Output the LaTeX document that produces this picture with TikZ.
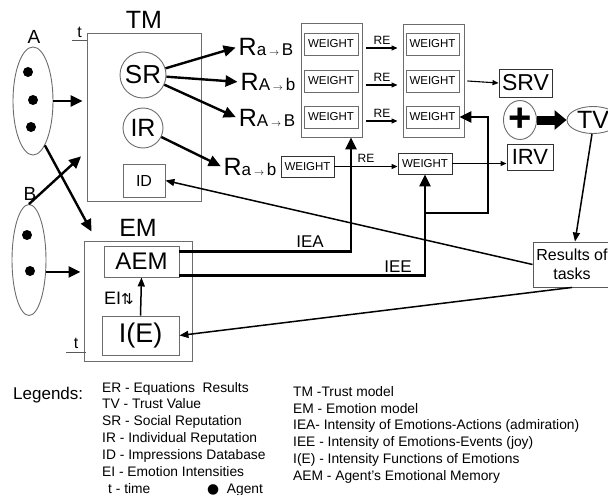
\documentclass[tikz,border=0pt]{standalone}
\usepackage{fontspec}
\setmainfont{Liberation Sans}
\newfontfamily\symfont{DejaVu Sans}
\usetikzlibrary{arrows.meta,shapes.geometric}
\newcommand{\fsz}[1]{\fontsize{#1}{#1}\selectfont}
\newcommand{\relab}[2]{{\fsz{25}R}{\fsz{17}#1\,{\fsz{10}$\rightarrow$}\,#2}}

\begin{document}
\begin{tikzpicture}[x=1pt, y=-1pt,
    frame/.style={draw=gray!85!black, line width=0.9pt, inner sep=0pt},
    wbox/.style={frame, minimum width=54pt, minimum height=22pt, font=\fsz{11.5}},
    heavy/.style={line width=2.4pt, -{Triangle[length=12pt,width=11pt]}},
    pipe/.style={line width=2.8pt, -{Triangle[length=12pt,width=11pt]}},
    thinarr/.style={line width=1.1pt, -{Triangle[length=6pt,width=5pt]}},
    midarr/.style={line width=1.5pt, -{Triangle[length=9pt,width=7pt]}},
    agent/.style={circle, fill=black, minimum size=10pt, inner sep=0pt},
    group/.style={ellipse, draw=gray!85!black, line width=0.9pt, inner sep=0pt}]
    \useasboundingbox (0,0) rectangle (608,495);
    % agents A and B
    \node[group, minimum width=40pt, minimum height=108pt] (a) at (33,101) {};
    \node[font=\fsz{19}] (alab) at (34,37) {A};
    \foreach \px/\py [count=\i] in {28/72, 33/100, 31/127}
        \node[agent] (a\i) at (\px,\py) {};
    \node[group, minimum width=34pt, minimum height=111pt] (b) at (29,260) {};
    \node[font=\fsz{19}] (blab) at (30,194) {B};
    \foreach \px/\py [count=\i] in {27/235, 30/271}
        \node[agent] (b\i) at (\px,\py) {};
    % trust model
    \node[frame, minimum width=114pt, minimum height=168pt] (tm) at (144,117) {};
    \node[font=\fsz{25}, above=1pt] (tmlab) at (tm.north) {TM};
    \draw[gray!70!black, line width=1pt] (72,41) -- (87,41)
        node[midway, above=0pt, text=black, font=\fsz{16}] (t1) {t};
    \node[circle, frame, minimum size=46pt, font=\fsz{26}] (sr) at (143,75) {SR};
    \node[circle, frame, minimum size=40pt, font=\fsz{25}] (ir) at (143,128) {IR};
    \node[frame, minimum width=42pt, minimum height=33pt, font=\fsz{16}] (id) at (144,180.5) {ID};
    % emotion model
    \node[frame, minimum width=108pt, minimum height=120pt] (em) at (138,301) {};
    \node[font=\fsz{25}, above=1pt] (emlab) at (em.north) {EM};
    \node[frame, minimum width=75pt, minimum height=31pt, font=\fsz{24}] (aem) at (141.5,261.5) {AEM};
    \node[frame, minimum width=77pt, minimum height=39pt, font=\fsz{27}] (ie) at (140.5,335.5) {I(E)};
    \draw[midarr] (ie.north) -- (aem.south);
    \node[font=\fsz{18}] (ei) at (119,298) {EI{\symfont\fsz{15}⇅}};
    \draw[gray!70!black, line width=1pt] (66,352) -- (86,352)
        node[midway, above=0pt, text=black, font=\fsz{16}] (t2) {t};
    % agents into the models
    \draw[heavy, shorten >=4pt] (a.east) -- (a.east -| tm.west);
    \draw[heavy, shorten >=2pt] (b.north) -- ([xshift=-4pt,yshift=-38pt]tm.west);
    \draw[heavy] (a.-75) -- ([xshift=8pt,yshift=9pt]em.north west);
    \draw[heavy, shorten >=3pt] (b.-35) -- (b.-35 -| em.west);
    % reputations
    \node[inner sep=1pt] (r1) at (266,47) {\relab{a}{B}};
    \node[inner sep=1pt] (r2) at (268,82) {\relab{A}{b}};
    \node[inner sep=1pt] (r3) at (267,118) {\relab{A}{B}};
    \node[inner sep=1pt] (r4) at (250,167) {\relab{a}{b}};
    \foreach \r in {r1,r2,r3}
        \draw[heavy, shorten >=2pt] (sr) -- (\r.west);
    \draw[heavy, shorten >=2pt] (ir) -- (r4.west);
    % weights
    \node[frame, minimum width=61pt, minimum height=114pt] (g1) at (331.5,80) {};
    \node[frame, minimum width=61pt, minimum height=113pt] (g2) at (433.5,80.5) {};
    \foreach \py [count=\i] in {44,81,117} {
        \node[wbox] (wa\i) at (331,\py) {WEIGHT};
        \node[wbox, minimum width=53pt] (wb\i) at (432.5,\py) {WEIGHT};
        \draw[thinarr] ([xshift=8pt,yshift=-4pt]wa\i.east) -- ([xshift=-8pt,yshift=-4pt]wb\i.west)
            node[midway, above=0pt, font=\fsz{12}] {RE};
    }
    \node[wbox, draw=black!80, minimum width=53pt, minimum height=21pt] (lw1) at (307.5,166.5) {WEIGHT};
    \node[wbox, draw=black!80, minimum height=21pt] (lw2) at (425,163.5) {WEIGHT};
    \draw[thinarr] (lw1.east) -- (lw1.east -| lw2.west)
        node[midway, above=0pt, font=\fsz{12}] {RE};
    % values
    \node[frame, draw=black!80, minimum width=53pt, minimum height=28pt, font=\fsz{23}] (srv) at (525.5,83) {SRV};
    \node[frame, draw=black!80, minimum width=46pt, minimum height=26pt, font=\fsz{22}] (irv) at (530,157) {IRV};
    \draw[thinarr] ([xshift=8pt]wb2.east) -- (srv.west);
    \draw[thinarr] (lw2.east) -- (lw2.east -| irv.west);
    \node[group, minimum width=32pt, minimum height=39pt, font=\bfseries\fsz{40}] (plus) at (520,120) {+};
    \node[group, minimum width=52pt, minimum height=27pt, font=\fsz{25}] (tv) at (593,120) {TV};
    \draw[line width=9pt, -{Triangle[length=12pt,width=19pt]}] (plus.east) -- (tv.west);
    % emotion intensities back to the weights
    \draw[pipe] ([yshift=10pt]aem.east) -| ([xshift=19.5pt]g1.south);
    \node[font=\fsz{17}] (iea) at (310,242) {IEA};
    \draw[pipe] ([yshift=-14pt]aem.east) -| (lw2.south);
    \node[font=\fsz{17}] (iee) at (398,267) {IEE};
    \coordinate (jn) at (lw2.south |- 0,213);
    \draw[pipe] (jn) -- (488,213) |- (wb3.east);
    % results of tasks
    \node[frame, draw=gray!70!black, minimum width=78pt, minimum height=45pt, align=center,
        font=\fontsize{16}{19}\selectfont] (res) at (572,264.5) {Results of\\tasks};
    \draw[midarr] ([xshift=-1pt]tv.south) -- ([xshift=3pt]res.north);
    \draw[midarr] (res.west) -- (id.east);
    \draw[midarr] (res.south) -- (ie.east);
    % legends
    \node[font=\fsz{17}, anchor=base west, inner sep=0pt] (leg) at (13,399) {Legends:};
    \foreach \txt [count=\i] in {ER - Equations\ \ Results, TV - Trust Value, SR - Social Reputation,
        IR - Individual Reputation, ID - Impressions Database, EI - Emotion Intensities}
        \node[font=\fsz{13.8}, anchor=base west, inner sep=0pt] (la\i) at (102,{392+16.9*(\i-1)}) {\txt};
    \node[font=\fsz{13.8}, anchor=base west, inner sep=0pt] (lt) at (108,493) {t - time};
    \node[font=\fsz{13.8}, anchor=base west, inner sep=0pt] (lag) at (207,493) {{\symfont ●}\ \ Agent};
    \foreach \txt [count=\i] in {TM -Trust model, EM - Emotion model,
        IEA- Intensity of Emotions-Actions (admiration), IEE - Intensity of Emotions-Events (joy),
        I(E) - Intensity Functions of Emotions, AEM - Agent's Emotional Memory}
        \node[font=\fsz{13.8}, anchor=base west, inner sep=0pt] (lb\i) at (293,{396.5+16.7*(\i-1)}) {\txt};
\end{tikzpicture}
\end{document}
